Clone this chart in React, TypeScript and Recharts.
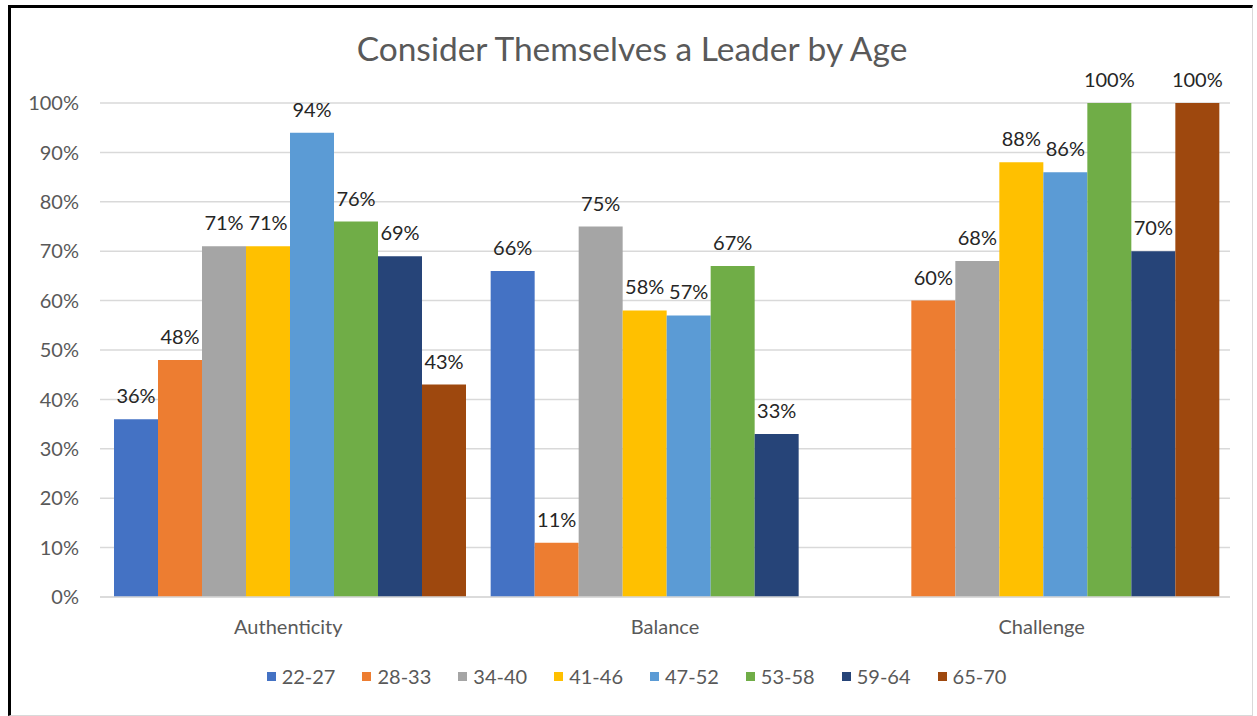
import React from 'react';
import { BarChart, Bar, XAxis, YAxis, CartesianGrid, Legend, LabelList } from 'recharts';

const categories = ['Authenticity', 'Balance', 'Challenge'];
const ageGroups = ['22-27', '28-33', '34-40', '41-46', '47-52', '53-58', '59-64', '65-70'];
const colors = ['#4472C4', '#ED7D31', '#A5A5A5', '#FFC000', '#5B9BD5', '#70AD47', '#264478', '#9E480E'];

const age22 = [36, 66, null];
const age28 = [48, 11, 60];
const age34 = [71, 75, 68];
const age41 = [71, 58, 88];
const age47 = [94, 57, 86];
const age53 = [76, 67, 100];
const age59 = [69, 33, 70];
const age65 = [43, null, 100];

const yTicks = [0, 10, 20, 30, 40, 50, 60, 70, 80, 90, 100];

const seriesValues = [age22, age28, age34, age41, age47, age53, age59, age65];

const chartData = categories.map((name, i) => {
  const row: Record<string, any> = { name };
  ageGroups.forEach((g, j) => {
    row[g] = seriesValues[j][i];
  });
  return row;
});

const FONT = 'Lato, "Open Sans", sans-serif';

const LegendContent = () => (
  <div style={{ display: 'flex', justifyContent: 'center', height: 24, alignItems: 'center', fontFamily: FONT, fontSize: 20, color: '#595959' }}>
    {ageGroups.map((g, i) => (
      <div key={g} style={{ display: 'flex', alignItems: 'center', marginRight: i < ageGroups.length - 1 ? 27 : 0 }}>
        <span style={{ width: 9, height: 9, background: colors[i], display: 'inline-block', marginRight: 6 }} />
        <span>{g}</span>
      </div>
    ))}
  </div>
);

export default function App() {
  return (
    <div style={{ position: 'absolute', left: 0, top: 0, width: 1257, height: 716, background: '#fff', overflow: 'hidden' }}>
      <div style={{ position: 'absolute', left: 8, top: 5, width: 1241, height: 707, borderLeft: '3px solid #000', borderTop: '3px solid #000', borderRight: '1px solid #d9d9d9', borderBottom: '1px solid #d9d9d9' }} />
      <div style={{ position: 'absolute', left: 0, top: 28, width: 1264, textAlign: 'center', fontFamily: FONT, fontSize: 33.5, color: '#595959' }}>
        Consider Themselves a Leader by Age
      </div>
      <div style={{ position: 'absolute', left: 0, top: 0 }}>
        <BarChart
          width={1257}
          height={716}
          data={chartData}
          margin={{ top: 103, right: 27, bottom: 65, left: 0 }}
          barCategoryGap={14}
          barGap={0}
        >
          <CartesianGrid vertical={false} stroke="#d9d9d9" strokeWidth={1.5} />
          <XAxis
            dataKey="name"
            axisLine={{ stroke: '#d9d9d9', strokeWidth: 1.5 }}
            tickLine={false}
            tickSize={0}
            tickMargin={23}
            tick={{ fill: '#595959', fontSize: 20, fontFamily: FONT }}
          />
          <YAxis
            width={100}
            domain={[0, 100]}
            ticks={yTicks}
            axisLine={false}
            tickLine={false}
            tickSize={0}
            tickMargin={21}
            tickFormatter={(v: number) => `${v}%`}
            tick={{ fill: '#595959', fontSize: 20, fontFamily: FONT }}
          />
          <Legend
            verticalAlign="bottom"
            content={<LegendContent />}
            wrapperStyle={{ top: 664, bottom: 'auto', left: 8, width: 1257 }}
          />
          {ageGroups.map((g, i) => (
            <Bar key={g} dataKey={g} fill={colors[i]} isAnimationActive={false}>
              <LabelList
                dataKey={g}
                position="top"
                offset={16}
                formatter={(v: any) => (v == null ? '' : `${v}%`)}
                style={{ fill: '#262626', fontSize: 20, fontFamily: FONT }}
              />
            </Bar>
          ))}
        </BarChart>
      </div>
    </div>
  );
}
